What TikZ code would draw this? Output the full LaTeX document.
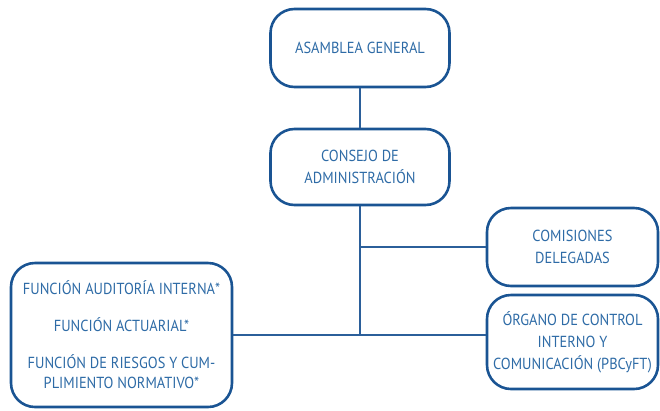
\documentclass[tikz,border=0pt]{standalone}
\usepackage{fontspec}
\setmainfont{PT Sans}[FakeStretch=0.9]
\begin{document}
\begin{tikzpicture}[x=1pt,y=-1pt,
  box/.style={draw=boxblue, line width=2.6pt, rounded corners=24pt, text=txtblue,
    align=center, inner sep=0pt, font=\fontsize{16}{22}\selectfont},
  link/.style={draw=lineblue, line width=1.4pt}]
\definecolor{boxblue}{HTML}{1A5493}
\definecolor{txtblue}{HTML}{2E6BA6}
\definecolor{lineblue}{HTML}{2B5F9A}
\useasboundingbox (0,0) rectangle (660,410);
\node[box, minimum width=179pt, minimum height=78pt] (asam) at (360,48) {ASAMBLEA GENERAL};
\node[box, minimum width=179pt, minimum height=76pt] (cons) at (360,167) {CONSEJO DE\\ADMINISTRACIÓN};
\node[box, minimum width=171pt, minimum height=78pt] (comi) at (572.5,247) {COMISIONES\\DELEGADAS};
\node[box, minimum width=171pt, minimum height=94pt] (org) at (572.5,342) {ÓRGANO DE CONTROL\\INTERNO Y\\COMUNICACIÓN (PBCyFT)};
\node[box, minimum width=221pt, minimum height=144pt, font=\fontsize{16}{20}\selectfont] (func) at (121.5,335) {FUNCIÓN AUDITORÍA INTERNA*\\[17pt]FUNCIÓN ACTUARIAL*\\[17pt]FUNCIÓN DE RIESGOS Y CUM-\\PLIMIENTO NORMATIVO*};
\draw[link] (asam.south) -- (cons.north);
\draw[link] (cons.south) -- (cons.south |- func.east);
\draw[link] (cons.south |- comi.west) -- (comi.west);
\draw[link] (func.east) -- (func.east -| org.west);
\end{tikzpicture}
\end{document}
